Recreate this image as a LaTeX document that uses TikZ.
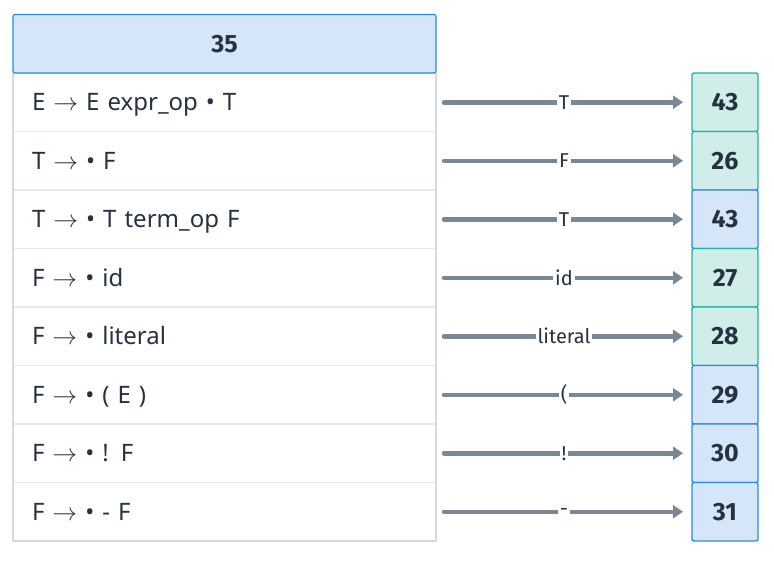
\documentclass[tikz,border=0pt]{standalone}
\usepackage{fontspec}
\setmainfont{Fira Sans}
\newfontfamily\rulefont{Noto Sans}
\usetikzlibrary{arrows.meta, positioning}
\definecolor{mytext}{RGB}{38,50,64}
\definecolor{myblue}{RGB}{46,139,219}
\definecolor{myteal}{RGB}{32,178,160}
\definecolor{mygray}{RGB}{122,135,148}
\definecolor{hdrblue}{RGB}{212,230,247}
\definecolor{hdrteal}{RGB}{208,237,234}
\definecolor{rowline}{RGB}{228,233,239}
\definecolor{frameline}{RGB}{200,212,224}
\tikzset{
  header/.style={rectangle, draw=myblue, fill=hdrblue, line width=1.2pt,
    minimum width=423pt, minimum height=58.5pt, rounded corners=2pt,
    outer sep=0pt, font=\fontsize{25}{29}\selectfont\bfseries, text=mytext},
  itemrow/.style={rectangle, draw=rowline, fill=white, line width=1.2pt,
    minimum width=423pt, minimum height=58.5pt, text width=385pt,
    text height=17pt, text depth=0pt,
    inner sep=0pt, outer sep=0pt, align=left,
    font=\rulefont\fontsize{24}{28}\selectfont, text=mytext},
  tealbox/.style={rectangle, draw=myteal, fill=hdrteal, line width=1.4pt,
    minimum width=66pt, minimum height=58.5pt, rounded corners=2pt,
    outer sep=0pt, font=\fontsize{25}{29}\selectfont\bfseries, text=mytext},
  bluebox/.style={tealbox, draw=myblue, fill=hdrblue},
  arrow/.style={-{Triangle[length=10pt, width=13pt]}, line width=4.5pt,
    line cap=round, color=mygray, shorten <=8pt, shorten >=9pt},
  lbl/.style={fill=white, inner sep=2pt, text=mytext,
    font=\fontsize{20}{23}\selectfont}
}
\begin{document}
\begin{tikzpicture}[x=1pt, y=1pt]
  \useasboundingbox (0,0) rectangle (774,-562);
  % state and its items
  \node[itemrow] (r1) at (224.5,-102.25) {E $\rightarrow$ E expr\_op • T};
  \node[itemrow, below=0pt of r1] (r2) {T $\rightarrow$ • F};
  \node[itemrow, below=0pt of r2] (r3) {T $\rightarrow$ • T term\_op F};
  \node[itemrow, below=0pt of r3] (r4) {F $\rightarrow$ • id};
  \node[itemrow, below=0pt of r4] (r5) {F $\rightarrow$ • literal};
  \node[itemrow, below=0pt of r5] (r6) {F $\rightarrow$ • ( E )};
  \node[itemrow, below=0pt of r6] (r7) {F $\rightarrow$ • ! F};
  \node[itemrow, below=0pt of r7] (r8) {F $\rightarrow$ • - F};
  \draw[frameline, line width=1.2pt, rounded corners=2pt]
    (r1.north west) rectangle (r8.south east);
  \node[header, above=0pt of r1] (state) {35};
  % successor states
  \node[tealbox, right=256pt of r1] (t1) {43};
  \node[tealbox, right=256pt of r2] (t2) {26};
  \node[bluebox, right=256pt of r3] (t3) {43};
  \node[tealbox, right=256pt of r4] (t4) {27};
  \node[tealbox, right=256pt of r5] (t5) {28};
  \node[bluebox, right=256pt of r6] (t6) {29};
  \node[bluebox, right=256pt of r7] (t7) {30};
  \node[bluebox, right=256pt of r8] (t8) {31};
  % transitions
  \draw[arrow] (r1) -- node[lbl] {T} (t1);
  \draw[arrow] (r2) -- node[lbl] {F} (t2);
  \draw[arrow] (r3) -- node[lbl] {T} (t3);
  \draw[arrow] (r4) -- node[lbl] {id} (t4);
  \draw[arrow] (r5) -- node[lbl] {literal} (t5);
  \draw[arrow] (r6) -- node[lbl] {(} (t6);
  \draw[arrow] (r7) -- node[lbl] {!} (t7);
  \draw[arrow] (r8) -- node[lbl] {-} (t8);
\end{tikzpicture}
\end{document}
